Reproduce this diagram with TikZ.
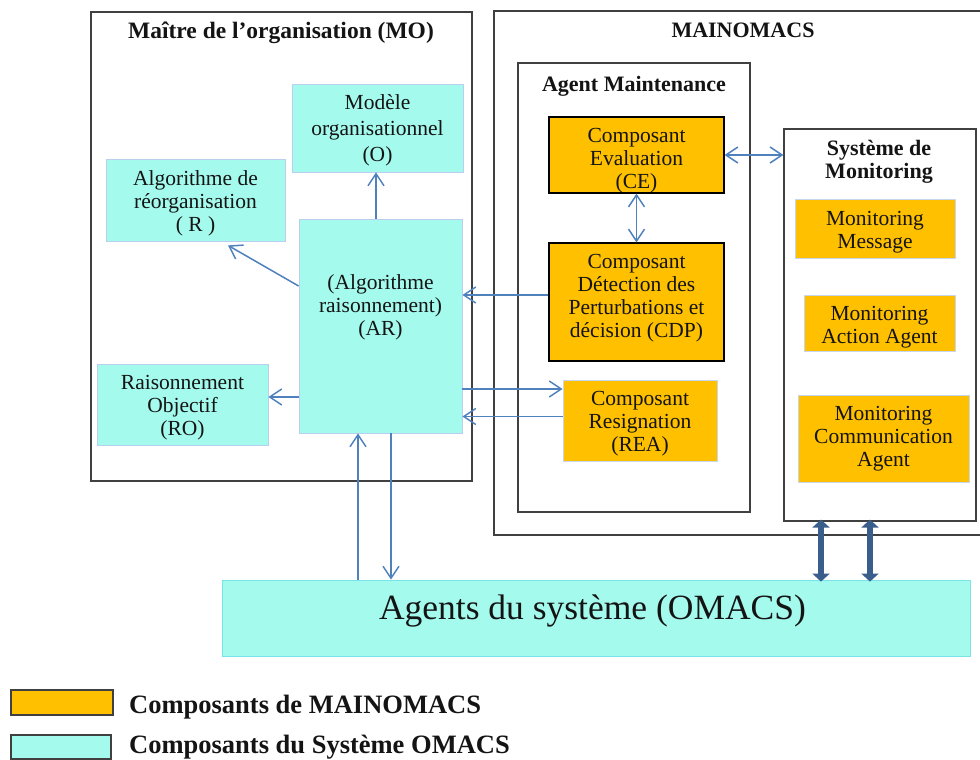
\documentclass[tikz,border=0pt]{standalone}
\usepackage{fontspec}
\setmainfont{Liberation Serif}
\usetikzlibrary{arrows.meta}

\definecolor{omacsfill}{RGB}{164,251,237}
\definecolor{omacsline}{RGB}{186,206,238}
\definecolor{omacsedge}{RGB}{120,228,232}
\definecolor{mainofill}{RGB}{255,192,0}
\definecolor{mainoline}{RGB}{198,214,238}
\definecolor{flowblue}{RGB}{79,129,189}
\definecolor{linkblue}{RGB}{58,94,140}
\definecolor{framegrey}{RGB}{64,64,64}
\definecolor{ink}{RGB}{20,20,20}

\begin{document}
\begin{tikzpicture}[x=1pt,y=-1pt,
  every node/.style={text=ink},
  boxtext/.style={font=\fontsize{21.5}{23}\selectfont, align=center},
  cyanbox/.style={boxtext, fill=omacsfill, draw=omacsline, line width=0.8pt, inner sep=0pt},
  orangebox/.style={boxtext, fill=mainofill, draw=mainoline, line width=0.8pt, inner sep=0pt},
  corebox/.style={orangebox, draw=black, line width=1.1pt},
  groupbox/.style={draw=framegrey, line width=1.2pt, inner sep=0pt},
  grouptitle/.style={font=\bfseries\fontsize{22}{23}\selectfont, align=center},
  tipbarb/.tip={Straight Barb[length=12pt,width=16pt]},
  flow/.style={draw=flowblue, line width=1.5pt, -tipbarb},
  flowboth/.style={draw=flowblue, line width=1.5pt, tipbarb-tipbarb},
  link/.style={draw=linkblue, line width=6pt, {Triangle[length=8pt,width=17pt]}-{Triangle[length=8pt,width=17pt]}},
  legendtext/.style={font=\bfseries\fontsize{26.5}{28}\selectfont, anchor=base west, inner sep=0pt}
]
\useasboundingbox (0,0) rectangle (980,760);
\fill[white] (0,0) rectangle (980,760);
\clip (0,0) rectangle (980,760);

% ---- group frames ----
\node[groupbox, minimum width=381, minimum height=469] (MO) at (281.5,246.5) {};
\node[grouptitle, font=\bfseries\fontsize{23.5}{24}\selectfont] (MOtitle) at (281,33) {Maître de l’organisation (MO)};

\node[groupbox, minimum width=496, minimum height=524] (MAIN) at (742,273) {};
\node[grouptitle] (MAINtitle) at (743,30) {MAINOMACS};

\node[groupbox, minimum width=232, minimum height=449] (AGM) at (634,287.5) {};
\node[grouptitle] (AGMtitle) at (634,86) {Agent Maintenance};

\node[groupbox, minimum width=192, minimum height=392] (MON) at (880,325) {};
\node[grouptitle] (MONtitle) at (879,162) {Système de\\Monitoring};

% ---- organisation master components ----
\node[cyanbox, minimum width=171, minimum height=88] (modele) at (377.5,128) {};
\node[boxtext, font=\fontsize{21.5}{26}\selectfont] (modeletext) at (377.5,130) {Modèle\\organisationnel\\(O)};
\node[cyanbox, minimum width=179, minimum height=82] (R) at (195.5,200) {};
\node[boxtext] (Rtext) at (195.5,203) {Algorithme de\\réorganisation\\( R )};
\node[cyanbox, minimum width=163, minimum height=214] (AR) at (380.5,326) {};
\node[boxtext] (ARtext) at (380.5,307) {(Algorithme\\raisonnement)\\(AR)};
\node[cyanbox, minimum width=171, minimum height=81] (RO) at (182.5,404.5) {};
\node[boxtext] (ROtext) at (182.5,407.5) {Raisonnement\\Objectif\\(RO)};

% ---- maintenance agent components ----
\node[corebox, minimum width=175, minimum height=76] (CE) at (636.5,155) {};
\node[boxtext] (CEtext) at (636.5,161) {Composant\\Evaluation\\(CE)};
\node[corebox, minimum width=175, minimum height=118] (CDP) at (636.5,302) {};
\node[boxtext] (CDPtext) at (636.5,298) {Composant\\Détection des\\Perturbations et\\décision (CDP)};
\node[orangebox, minimum width=154, minimum height=81] (REA) at (640,420.5) {};
\node[boxtext] (REAtext) at (640,423.5) {Composant\\Resignation\\(REA)};

% ---- monitoring components ----
\node[orangebox, minimum width=160, minimum height=59] (MM) at (875,228.5) {};
\node[boxtext] (MMtext) at (875,232.5) {Monitoring\\Message};
\node[orangebox, minimum width=151, minimum height=56] (MA) at (879.5,323) {};
\node[boxtext] (MAtext) at (879.5,327) {Monitoring\\Action Agent};
\node[orangebox, minimum width=171, minimum height=87] (MC) at (883.5,438.5) {Monitoring\\Communication\\Agent};

% ---- system agents ----
\node[cyanbox, draw=omacsedge, minimum width=748, minimum height=76] (OMACS) at (596,618) {};
\node[font=\fontsize{35.5}{38}\selectfont] (OMACStext) at (592.5,611) {Agents du système (OMACS)};

% ---- anchor points for the connectors ----
\coordinate (ARtop)  at ([xshift=-4.5]AR.north);
\coordinate (ARtoR)  at ([yshift=40]AR.west);
\coordinate (Rin)    at ([xshift=32.5,yshift=-4]R.south);
\coordinate (ROin)   at ([yshift=7.5]RO.east);
\coordinate (CDPout) at ([yshift=7]CDP.west);
\coordinate (REAin)  at ([yshift=31.5]REA.west);
\coordinate (REAout) at ([yshift=4]REA.west);
\coordinate (ARup)   at ([xshift=-22.5]AR.south);
\coordinate (ARdown) at ([xshift=10.5]AR.south);
\coordinate (linkA)  at (821,0);
\coordinate (linkB)  at (870,0);

% ---- connectors ----
\draw[flow] (ARtop) -- (ARtop |- modele.south);
\draw[flow] (ARtoR) -- (Rin);
\draw[flow] (ROin -| AR.west) -- (ROin);
\draw[flow] (CDPout) -- (CDPout -| AR.east);
\draw[flow] (REAin -| AR.east) -- (REAin);
\draw[flow] (REAout) -- (REAout -| AR.east);
\draw[flow] (ARup |- OMACS.north) -- (ARup);
\draw[flow] (ARdown) -- (ARdown |- OMACS.north);
\draw[flowboth] (CE.south) -- (CDP.north);
\draw[flowboth] (CE.east) -- (CE.east -| MON.west);
\draw[link] ([yshift=2]linkA |- MON.south) -- ([yshift=-2]linkA |- OMACS.north);
\draw[link] ([yshift=2]linkB |- MON.south) -- ([yshift=-2]linkB |- OMACS.north);

% ---- legend ----
\node[draw=framegrey, line width=1.2pt, fill=mainofill, minimum width=102, minimum height=25, inner sep=0pt] (legMain) at (62,702.5) {};
\node[legendtext] (legMainText) at (129,713) {Composants de MAINOMACS};
\node[draw=framegrey, line width=1.2pt, fill=omacsfill, minimum width=100, minimum height=24, inner sep=0pt] (legOmacs) at (61,747) {};
\node[legendtext] (legOmacsText) at (129,753) {Composants du Système OMACS};
\end{tikzpicture}
\end{document}
